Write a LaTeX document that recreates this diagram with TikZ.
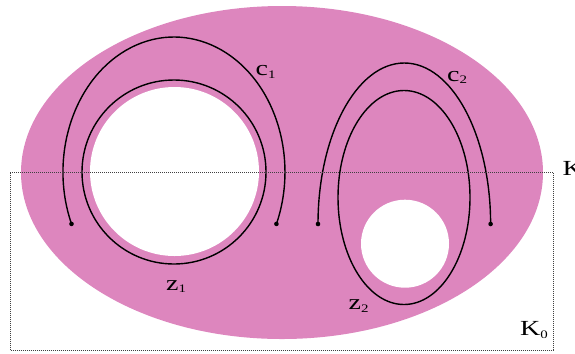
\documentclass[tikz,border=0pt]{standalone}
\usepackage{fontspec}
\setmainfont{Liberation Serif}
\newfontfamily\lblfont[FakeStretch=1.3]{Liberation Serif}
\definecolor{blobpink}{RGB}{221,134,190}
\newcommand{\lbl}[2]{{\lblfont\fontsize{21.5bp}{24bp}\selectfont #1}{\lblfont\fontsize{11.5bp}{14bp}\selectfont\raisebox{-2.5bp}{#2}}}
\begin{document}
\begin{tikzpicture}[x=1bp,y=-1bp,
  curve/.style={line width=1.4bp,black},
  enddot/.style={circle,fill=black,inner sep=0pt,minimum size=4.6bp},
  lab/.style={inner sep=0pt,anchor=base west},
  frame/.style={draw=black!75,line width=0.6bp,dash pattern=on 1bp off 1bp}]
\useasboundingbox (0,0) rectangle (575,353);
% region
\fill[blobpink] (282,172.5) ellipse[x radius=261,y radius=166.5];
\fill[white] (174.5,171.5) circle[radius=84.5];
\fill[white] (405,243.7) circle[radius=44];
% z curves
\draw[curve] (174,172) circle[radius=92];
\draw[curve] (404,197.5) ellipse[x radius=66,y radius=107];
% c curves
\coordinate (c1s) at (71.5,223.9);
\draw[curve] (c1s) arc[start angle=157.4,end angle=382.6,x radius=111,y radius=135] coordinate (c1e);
\coordinate (c2s) at (318,224);
\draw[curve] (c2s) arc[start angle=180,end angle=360,x radius=86.3,y radius=161] coordinate (c2e);
\node[enddot] (d1) at (c1s) {};
\node[enddot] (d2) at (c1e) {};
\node[enddot] (d3) at (c2s) {};
\node[enddot] (d4) at (c2e) {};
% frame K0
\draw[frame] (10,172.7) rectangle (553,350);
% labels
\node[lab] (lc1) at (255.5,75.5) {\lbl{c}{1}};
\node[lab] (lc2) at (447,81) {\lbl{c}{2}};
\node[lab] (lz1) at (166,290) {\lbl{z}{1}};
\node[lab] (lz2) at (348.5,309.5) {\lbl{z}{2}};
\node[lab] (lk0) at (520,335.7) {\lbl{K}{0}};
\node[lab] (lk) at (562.5,175) {\lblfont\fontsize{21.5bp}{24bp}\selectfont K};
\end{tikzpicture}
\end{document}
